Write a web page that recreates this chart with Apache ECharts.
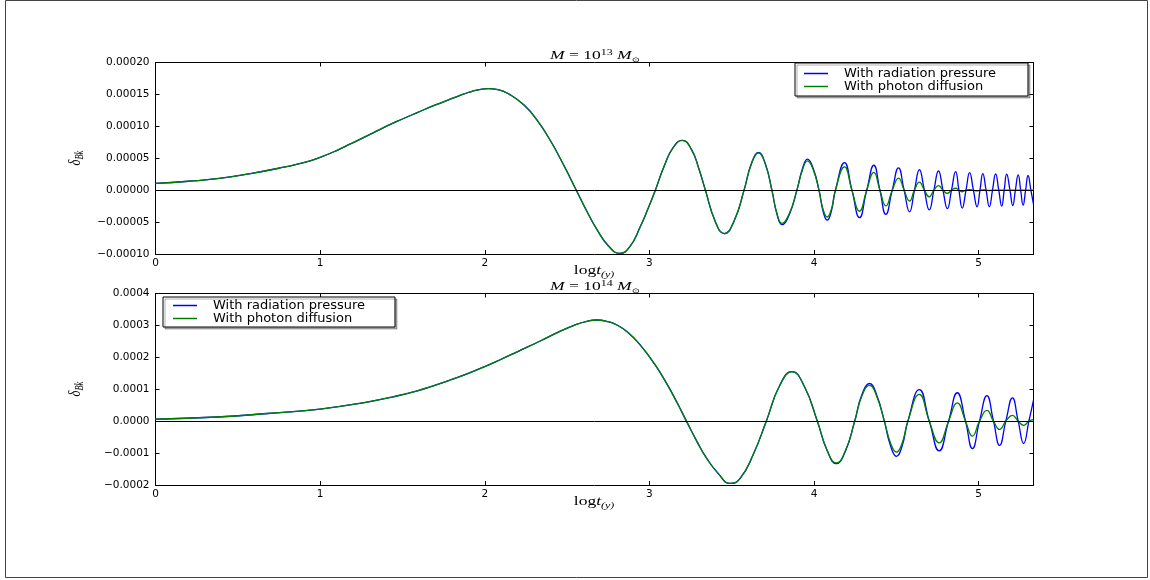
<!DOCTYPE html>
<html>
<head>
<meta charset="utf-8">
<script src="https://cdn.jsdelivr.net/npm/echarts@6/dist/echarts.min.js"></script>
<style>
  html, body { margin: 0; padding: 0; background: #fff; }
  #chart { width: 1150px; height: 580px; }
</style>
</head>
<body>
<div id="chart"></div>
<script>
// log t (years) sample positions and density contrast for M = 1e13 Msun (values in units of 1e-5)
const topX = [
  0, 0.2, 0.375, 0.577, 0.78, 0.9, 1.0, 1.1, 1.18, 1.3,
  1.385, 1.5, 1.59, 1.7, 1.79, 1.85, 1.9, 1.96, 2.02, 2.08,
  2.15, 2.24, 2.32, 2.40, 2.48, 2.556, 2.62, 2.68, 2.75, 2.82,
  2.88, 2.945, 2.99, 3.036, 3.09, 3.145, 3.20, 3.255, 3.30, 3.34,
  3.40, 3.455, 3.515, 3.575, 3.62, 3.663, 3.705, 3.744, 3.775, 3.805,
  3.85, 3.896, 3.93, 3.96, 3.995, 4.03, 4.055, 4.08, 4.105, 4.13,
  4.185, 4.23, 4.276, 4.32, 4.363, 4.40, 4.436, 4.475, 4.513, 4.547,
  4.58, 4.61, 4.64, 4.67, 4.70, 4.728, 4.756, 4.783, 4.81, 4.835,
  4.86, 4.88, 4.90, 4.923, 4.945, 4.968, 4.99, 5.008, 5.025, 5.045,
  5.065, 5.084, 5.103, 5.122, 5.14, 5.155, 5.17, 5.19, 5.207, 5.223,
  5.24, 5.255, 5.27, 5.285, 5.30, 5.317, 5.333
];
const topRadiation = [
  1.05, 1.4, 1.8, 2.6, 3.6, 4.3, 5.15, 6.2, 7.2, 8.7,
  9.8, 11.15, 12.15, 13.35, 14.25, 14.85, 15.3, 15.7, 15.9, 15.75,
  15.0, 13.3, 10.9, 7.7, 3.9, 0, -3.3, -6.1, -8.7, -9.9,
  -8.9, -5.7, -3.0, 0, 3.8, 6.7, 7.8, 6.4, 3.4, 0,
  -4.9, -6.8, -4.8, 0, 4.2, 5.9, 4.05, 0, -3.8, -5.4,
  -3.8, 0, 3.4, 4.85, 3.4, 0, -3.3, -4.7, -3.3, 0,
  4.3, 0, -4.3, 0, 3.9, 0, -3.8, 0, 3.5, 0,
  -3.4, 0, 3.2, 0, -3.1, 0, 3.0, 0, -2.9, 0,
  2.9, 0, -2.8, 0, 2.75, 0, -2.6, 0, 2.6, 0,
  -2.6, 0, 2.55, 0, -2.5, 0, 2.5, 0, -2.4, 0,
  2.4, 0, -2.35, 0, 2.3, 0, -2.2
];
const topDiffusion = [
  1.05, 1.4, 1.8, 2.6, 3.6, 4.3, 5.15, 6.2, 7.2, 8.7,
  9.8, 11.15, 12.15, 13.35, 14.25, 14.85, 15.3, 15.7, 15.9, 15.75,
  15.0, 13.3, 10.9, 7.7, 3.9, 0, -3.3, -6.1, -8.7, -9.9,
  -8.9, -5.7, -3.0, 0, 3.8, 6.7, 7.8, 6.4, 3.4, 0,
  -4.9, -6.8, -4.8, 0, 4.15, 5.85, 4.0, 0, -3.65, -5.2,
  -3.65, 0, 3.2, 4.6, 3.2, 0, -3.0, -4.2, -3.0, 0,
  3.65, 0, -3.3, 0, 2.8, 0, -2.45, 0, 1.9, 0,
  -1.7, 0, 1.25, 0, -1.05, 0, 0.7, 0, -0.5, 0,
  0.3, 0, -0.25, 0, 0.1, 0, -0.1, 0, 0.05, 0,
  -0.05, 0, 0, 0, 0, 0, 0, 0, 0, 0,
  0, 0, 0, 0, 0, 0, 0
];
const topUnit = 1e-5;

// log t (years) sample positions and density contrast for M = 1e14 Msun (values in units of 1e-4)
const bottomX = [
  0, 0.375, 0.68, 1.0, 1.285, 1.45, 1.59, 1.7, 1.79, 1.9,
  2.0, 2.1, 2.2, 2.34, 2.45, 2.55, 2.62, 2.68, 2.74, 2.80,
  2.87, 2.945, 3.03, 3.107, 3.17, 3.225, 3.29, 3.346, 3.42, 3.49,
  3.55, 3.63, 3.71, 3.79, 3.866, 3.94, 4.02, 4.08, 4.135, 4.19,
  4.247, 4.29, 4.338, 4.38, 4.427, 4.465, 4.50, 4.535, 4.57, 4.64,
  4.70, 4.76, 4.817, 4.87, 4.92, 4.962, 5.005, 5.05, 5.09, 5.127,
  5.165, 5.205, 5.24, 5.273, 5.305, 5.333
];
const bottomRadiation = [
  0.06, 0.13, 0.24, 0.38, 0.6, 0.77, 0.95, 1.13, 1.29, 1.5,
  1.71, 1.94, 2.18, 2.52, 2.8, 3.02, 3.13, 3.17, 3.13, 3.02,
  2.78, 2.38, 1.8, 1.16, 0.56, 0, -0.65, -1.15, -1.65, -1.95,
  -1.8, -1.05, 0, 1.1, 1.55, 1.1, 0, -0.93, -1.33, -0.95,
  0, 0.82, 1.18, 0.83, 0, -0.78, -1.10, -0.78, 0, 0.99,
  0, -0.93, 0, 0.89, 0, -0.86, 0, 0.80, 0, -0.76,
  0, 0.73, 0, -0.70, 0, 0.66
];
const bottomDiffusion = [
  0.06, 0.13, 0.24, 0.38, 0.6, 0.77, 0.95, 1.13, 1.29, 1.5,
  1.71, 1.94, 2.18, 2.52, 2.8, 3.02, 3.13, 3.17, 3.13, 3.02,
  2.78, 2.38, 1.8, 1.16, 0.56, 0, -0.65, -1.15, -1.65, -1.95,
  -1.8, -1.05, 0, 1.1, 1.55, 1.1, 0, -0.92, -1.31, -0.93,
  0, 0.78, 1.12, 0.79, 0, -0.69, -0.97, -0.69, 0, 0.84,
  0, -0.68, 0, 0.57, 0, -0.47, 0, 0.34, 0, -0.26,
  0, 0.18, 0, -0.13, 0, 0.05
];
const bottomUnit = 1e-4;

const seriesNames = ['With radiation pressure', 'With photon diffusion'];
const xMin = 0, xMax = 5.333, xStep = 1;
const topYRange = [-0.0001, 0.0002, 0.00005];
const bottomYRange = [-0.0002, 0.0004, 0.0001];

const pairs = (xs, ys, unit) => xs.map((x, i) => [x, ys[i] * unit]);
const minus = '\u2212';
const fmt = digits => v => (v < -1e-12 ? minus : '') + Math.abs(v).toFixed(digits);

const tickFont = { fontFamily: 'DejaVu Sans', fontSize: 10.5, color: '#000' };
const frameLine = { show: true, onZero: false, lineStyle: { color: '#000', width: 1 } };
const innerTick = { show: true, inside: true, length: 4, lineStyle: { color: '#000', width: 1 } };

function xAxes(grid) {
  return [
    { type: 'value', gridIndex: grid, min: xMin, max: xMax, interval: xStep, position: 'bottom',
      axisLine: frameLine, axisTick: innerTick, splitLine: { show: false },
      axisLabel: Object.assign({ margin: 4, showMaxLabel: false, formatter: v => String(Math.round(v)) }, tickFont) },
    { type: 'value', gridIndex: grid, min: xMin, max: xMax, interval: xStep, position: 'top',
      axisLine: frameLine, axisTick: innerTick, splitLine: { show: false }, axisLabel: { show: false } }
  ];
}
function yAxes(grid, range, digits) {
  return [
    { type: 'value', gridIndex: grid, min: range[0], max: range[1], interval: range[2], position: 'left',
      axisLine: frameLine, axisTick: innerTick, splitLine: { show: false },
      axisLabel: Object.assign({ margin: 6, formatter: fmt(digits) }, tickFont) },
    { type: 'value', gridIndex: grid, min: range[0], max: range[1], interval: range[2], position: 'right',
      axisLine: frameLine, axisTick: innerTick, splitLine: { show: false }, axisLabel: { show: false } }
  ];
}

function curve(name, color, data, xi, yi, withZero) {
  const s = {
    name: name, type: 'line', xAxisIndex: xi, yAxisIndex: yi, data: data,
    smooth: 0.5, showSymbol: false, symbol: 'none', clip: true,
    lineStyle: { color: color, width: 1.3 }, itemStyle: { color: color },
    emphasis: { disabled: true }, silent: true
  };
  if (withZero) {
    s.markLine = { silent: true, symbol: 'none', label: { show: false }, animation: false,
      lineStyle: { color: '#000', width: 1, type: 'solid' }, data: [{ yAxis: 0 }] };
  }
  return s;
}

// Math-style labels: serif italics with raised / lowered pieces
const serif = 'Liberation Serif';
const mathRich = {
  i: { fontFamily: serif, fontStyle: 'italic', fontSize: 12.5, lineHeight: 16, verticalAlign: 'middle', fill: '#000', color: '#000' },
  r: { fontFamily: serif, fontSize: 12.5, lineHeight: 16, verticalAlign: 'middle', fill: '#000', color: '#000' },
  sup: { fontFamily: serif, fontSize: 8.5, lineHeight: 9, verticalAlign: 'top', fill: '#000', color: '#000' },
  sub: { fontFamily: serif, fontStyle: 'italic', fontSize: 8.5, lineHeight: 9, verticalAlign: 'bottom', fill: '#000', color: '#000' },
  sym: { fontFamily: 'DejaVu Sans', fontSize: 7, lineHeight: 8, verticalAlign: 'bottom', fill: '#000', color: '#000' }
};
function mathText(x, y, text, vertical) {
  return { type: 'text', x: x, y: y, silent: true,
    rotation: vertical ? Math.PI / 2 : 0,
    scaleX: vertical ? 1 : 1.4, scaleY: vertical ? 1.4 : 1,
    style: { text: text, rich: mathRich, align: 'center', verticalAlign: 'middle', fill: '#000' } };
}

const legendBase = {
  orient: 'vertical', data: seriesNames, selectedMode: false,
  icon: 'rect', itemWidth: 24, itemHeight: 1.5, itemGap: 0,
  backgroundColor: '#fff', borderColor: '#000', borderWidth: 1, borderRadius: 0,
  shadowColor: 'rgba(0,0,0,0.3)', shadowBlur: 0, shadowOffsetX: 2, shadowOffsetY: 2,
  textStyle: { fontFamily: 'DejaVu Sans', fontSize: 13, lineHeight: 13, color: '#000', padding: [0, 0, 0, 11] }
};

const option = {
  animation: false,
  backgroundColor: '#fff',
  grid: [
    { left: 155.5, top: 62.5, right: 116.5, height: 191.5 },
    { left: 155.5, top: 293.5, right: 116.5, height: 191.5 }
  ],
  xAxis: xAxes(0).concat(xAxes(1)),
  yAxis: yAxes(0, topYRange, 5).concat(yAxes(1, bottomYRange, 4)),
  legend: [
    Object.assign({}, legendBase, { left: 795, top: 63, padding: [4, 32, 3, 9] }),
    Object.assign({}, legendBase, { left: 163, top: 297, padding: [2, 30, 2, 10] })
  ],
  series: [
    curve(seriesNames[0], '#0000ff', pairs(topX, topRadiation, topUnit), 0, 0, false),
    curve(seriesNames[1], '#008000', pairs(topX, topDiffusion, topUnit), 0, 0, true),
    curve(seriesNames[0], '#0000ff', pairs(bottomX, bottomRadiation, bottomUnit), 2, 2, false),
    curve(seriesNames[1], '#008000', pairs(bottomX, bottomDiffusion, bottomUnit), 2, 2, true)
  ],
  graphic: [
    { type: 'rect', silent: true, shape: { x: 5.5, y: 0.5, width: 1142, height: 577 },
      style: { fill: 'none', stroke: '#444', lineWidth: 1 } },
    mathText(595, 56, '{i|M}{r| = 10}{sup|13}{i| M}{sym|\u2299}'),
    mathText(595, 287, '{i|M}{r| = 10}{sup|14}{i| M}{sym|\u2299}'),
    mathText(594, 271, '{r|log}{i|t}{sub|(y)}'),
    mathText(594, 502, '{r|log}{i|t}{sub|(y)}'),
    mathText(75, 158, '{i|\u03b4}{sub|Bk}', true),
    mathText(75, 389, '{i|\u03b4}{sub|Bk}', true)
  ]
};

const chart = echarts.init(document.getElementById('chart'), null, { renderer: 'canvas' });
chart.setOption(option);
</script>
</body>
</html>
